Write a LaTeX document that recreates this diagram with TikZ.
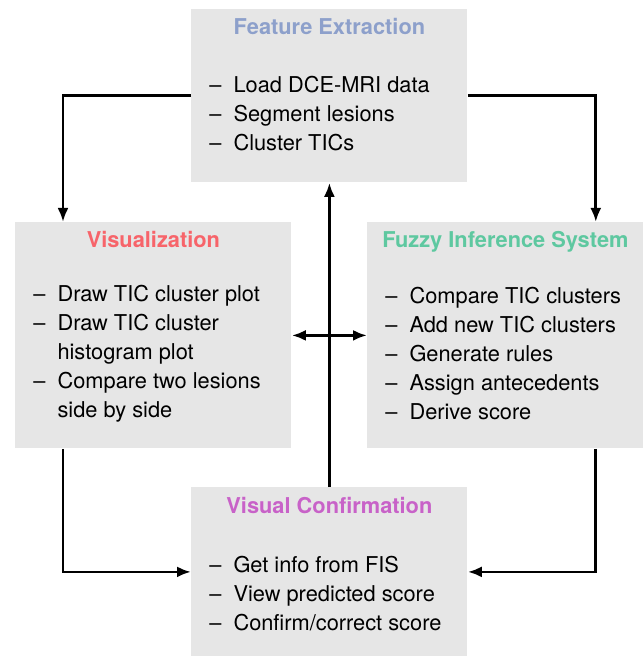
\documentclass[tikz,border=0pt]{standalone}
\usepackage{fontspec}
\setmainfont{TeX Gyre Heros}
\usetikzlibrary{positioning,arrows.meta}

\definecolor{boxgray}{HTML}{E6E6E6}
\definecolor{fecolor}{HTML}{8DA0CB}
\definecolor{viscolor}{HTML}{F7646A}
\definecolor{fiscolor}{HTML}{5EC8A0}
\definecolor{vccolor}{HTML}{C862C8}

\newcommand{\steplist}[1]{\begin{tabular}[t]{@{}l@{\hspace{6pt}}l@{}}#1\end{tabular}}

\begin{document}
\begin{tikzpicture}[x=0.5pt,y=-0.5pt,
  every node/.style={font=\fontsize{10.9}{14.5}\selectfont},
  box/.style={fill=boxgray,inner sep=0pt,anchor=north west,minimum width=138pt},
  boxtitle/.style={font=\fontsize{10.9}{14.5}\selectfont\bfseries,text=#1,anchor=base,inner sep=0pt},
  items/.style={anchor=base west,inner sep=0pt},
  tip/.tip={Latex[length=7pt,width=5.5pt]},
  flow/.style={line width=1.4pt,-tip},
  twoway/.style={line width=1.4pt,tip-tip}]
\useasboundingbox (0,0) rectangle (643,657);
% boxes
\node[box,minimum height=86.5pt] (fe) at (191,9) {};
\node[box,minimum height=113pt] (vis) at (15,222) {};
\node[box,minimum height=113pt] (fis) at (367,222) {};
\node[box,minimum height=84.5pt] (vc) at (191,487) {};
% titles
\node[boxtitle=fecolor] (fetitle) at ([yshift=-13pt]fe.north) {Feature Extraction};
\node[boxtitle=viscolor] (vistitle) at ([yshift=-13pt]vis.north) {Visualization};
\node[boxtitle=fiscolor] (fistitle) at ([yshift=-13pt]fis.north) {Fuzzy Inference System};
\node[boxtitle=vccolor] (vctitle) at ([yshift=-13pt]vc.north) {Visual Confirmation};
% lists
\node[items] (felist) at ([xshift=9pt,yshift=-42pt]fe.north west)
  {\steplist{-- & Load DCE-MRI data\\ -- & Segment lesions\\ -- & Cluster TICs}};
\node[items] (vislist) at ([xshift=9pt,yshift=-39.5pt]vis.north west)
  {\steplist{-- & Draw TIC cluster plot\\ -- & Draw TIC cluster\\ & histogram plot\\
   -- & Compare two lesions\\ & side by side}};
\node[items] (fislist) at ([xshift=9pt,yshift=-40.5pt]fis.north west)
  {\steplist{-- & Compare TIC clusters\\ -- & Add new TIC clusters\\ -- & Generate rules\\
   -- & Assign antecedents\\ -- & Derive score}};
\node[items] (vclist) at ([xshift=9pt,yshift=-42.5pt]vc.north west)
  {\steplist{-- & Get info from FIS\\ -- & View predicted score\\ -- & Confirm/correct score}};
% connectors
\draw[flow] (fe.west) -| ([xshift=24pt]vis.north west);
\draw[flow] (fe.east) -| ([xshift=-24pt]fis.north east);
\draw[flow] ([xshift=24pt]vis.south west) |- (vc.west);
\draw[flow] ([xshift=-24pt]fis.south east) |- (vc.east);
\draw[flow] (vc.north) -- (fe.south);
\draw[twoway] (vis.east) -- (fis.west);
\end{tikzpicture}
\end{document}
